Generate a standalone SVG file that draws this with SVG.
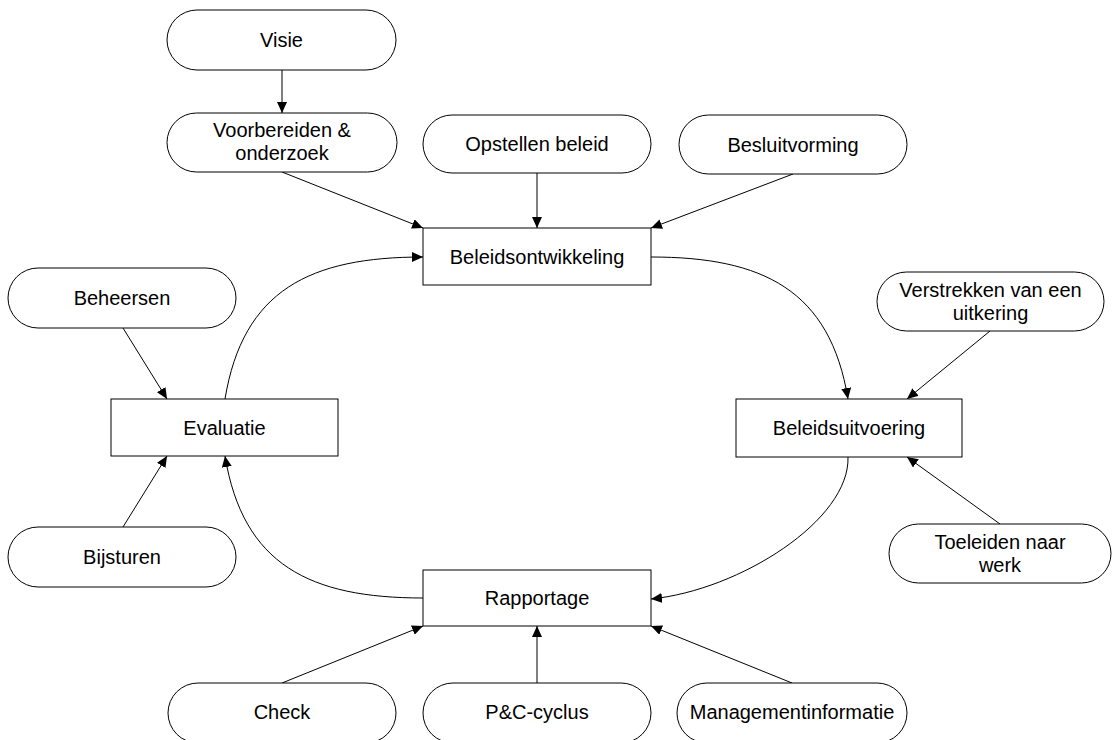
<svg xmlns="http://www.w3.org/2000/svg" width="1112" height="740" viewBox="0 0 1112 740">
<style>
.pill{fill:#fff;stroke:#000;stroke-width:1}
.box{fill:#fff;stroke:#000;stroke-width:1}
.t{font-family:"Liberation Sans",Arial,sans-serif;font-size:20px;fill:#000;text-anchor:middle}
.c{fill:none;stroke:#000;stroke-width:1;marker-end:url(#ah)}
</style>
<defs>
<marker id="ah" markerUnits="userSpaceOnUse" markerWidth="11" markerHeight="10" refX="11" refY="5" orient="auto">
<path d="M0,0 L11,5 L0,10 z" fill="#000"/>
</marker>
</defs>
<rect width="1112" height="740" fill="#fff"/>
<g id="connectors">
<path class="c" d="M282,70 L282,113"/>
<path class="c" d="M282,172 L423,228"/>
<path class="c" d="M537,173 L537,228"/>
<path class="c" d="M793,174 L651,228"/>
<path class="c" d="M651,257 C763,257 830,290 848,399"/>
<path class="c" d="M990,331 L907,399"/>
<path class="c" d="M1000,524 L907,457"/>
<path class="c" d="M848,457 C850,520 740,590 651,599"/>
<path class="c" d="M792,683 L651,626"/>
<path class="c" d="M537,683 L537,626"/>
<path class="c" d="M282,683 L423,626"/>
<path class="c" d="M423,598 C310,598 243,565 225,456"/>
<path class="c" d="M123,527 L167,456"/>
<path class="c" d="M123,328 L167,399"/>
<path class="c" d="M225,399 C243,290 310,257 423,257"/>
</g>
<g id="visie"><rect class="pill" x="167" y="10" width="229" height="60" rx="30"/><text class="t" x="281.5" y="47">Visie</text></g>
<g id="voorbereiden"><rect class="pill" x="167" y="113" width="230" height="59" rx="29.5"/><text class="t" x="282" y="137">Voorbereiden &amp;</text><text class="t" x="282" y="160">onderzoek</text></g>
<g id="opstellen"><rect class="pill" x="423" y="115" width="228" height="58" rx="29"/><text class="t" x="537" y="151">Opstellen beleid</text></g>
<g id="besluitvorming"><rect class="pill" x="679" y="115" width="228" height="59" rx="29.5"/><text class="t" x="793" y="151.5">Besluitvorming</text></g>
<g id="beleidsontwikkeling"><rect class="box" x="423" y="228" width="228" height="57"/><text class="t" x="537" y="264">Beleidsontwikkeling</text></g>
<g id="beheersen"><rect class="pill" x="8" y="268" width="228" height="60" rx="30"/><text class="t" x="122" y="305">Beheersen</text></g>
<g id="verstrekken"><rect class="pill" x="877" y="272" width="227" height="59" rx="29.5"/><text class="t" x="990.5" y="297">Verstrekken van een</text><text class="t" x="990.5" y="320">uitkering</text></g>
<g id="evaluatie"><rect class="box" x="111" y="399" width="227" height="57"/><text class="t" x="224.5" y="435">Evaluatie</text></g>
<g id="beleidsuitvoering"><rect class="box" x="736" y="399" width="226" height="58"/><text class="t" x="849" y="435">Beleidsuitvoering</text></g>
<g id="bijsturen"><rect class="pill" x="8" y="527" width="228" height="60" rx="30"/><text class="t" x="122" y="564">Bijsturen</text></g>
<g id="toeleiden"><rect class="pill" x="889" y="524" width="222" height="59" rx="29.5"/><text class="t" x="1000" y="549">Toeleiden naar</text><text class="t" x="1000" y="572">werk</text></g>
<g id="rapportage"><rect class="box" x="423" y="570" width="228" height="56"/><text class="t" x="537" y="605">Rapportage</text></g>
<g id="check"><rect class="pill" x="168" y="683" width="228" height="60" rx="30"/><text class="t" x="282" y="719">Check</text></g>
<g id="pc-cyclus"><rect class="pill" x="423" y="683" width="228" height="60" rx="30"/><text class="t" x="537" y="719">P&amp;C-cyclus</text></g>
<g id="managementinformatie"><rect class="pill" x="677" y="683" width="230" height="60" rx="30"/><text class="t" x="792" y="719">Managementinformatie</text></g>
</svg>
